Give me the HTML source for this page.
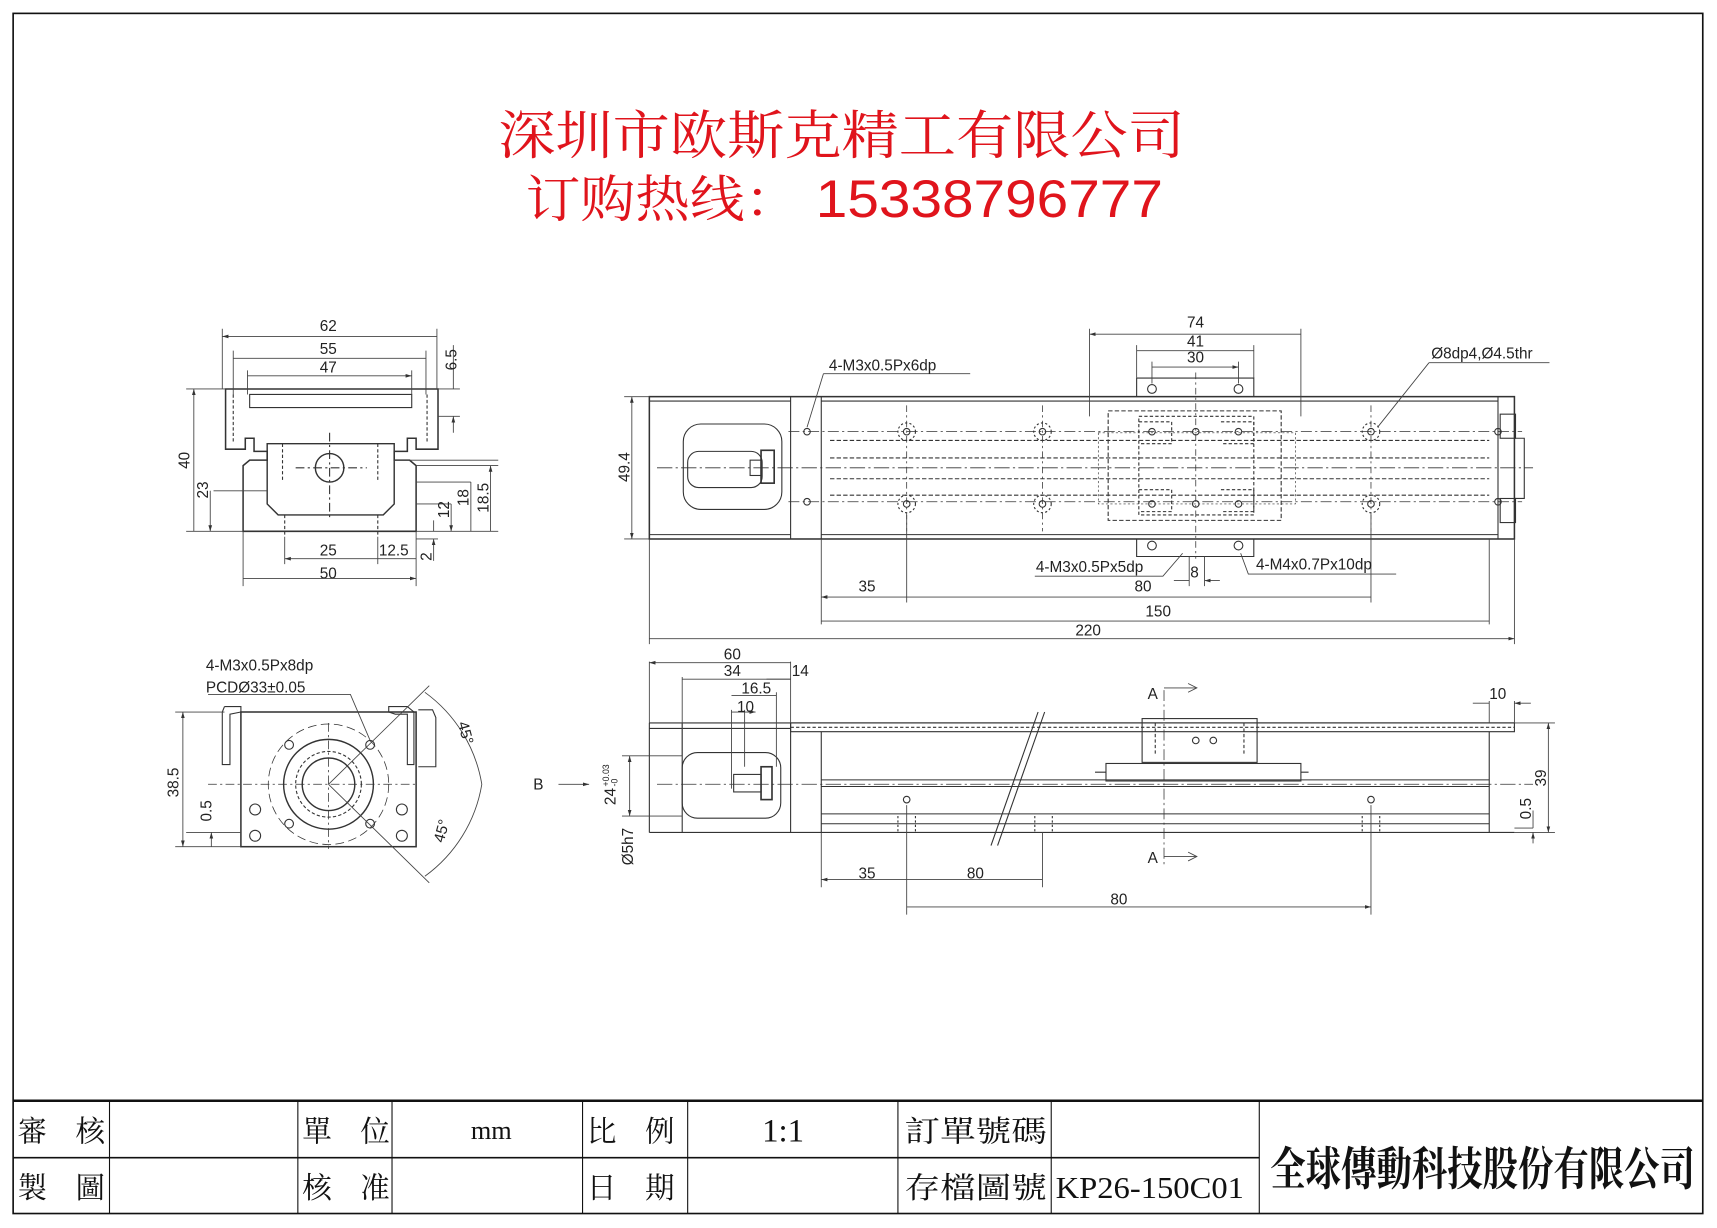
<!DOCTYPE html>
<html><head><meta charset="utf-8"><style>
html,body{margin:0;padding:0;background:#fff;}
svg{display:block;}
text{font-family:"Liberation Sans",sans-serif;fill:#222;}
.cj{font-family:"Liberation Serif","Noto Serif CJK SC","Noto Sans CJK TC",serif;fill:#111;}
</style></head><body>
<svg width="1717" height="1228" viewBox="0 0 1568 1121" xmlns="http://www.w3.org/2000/svg">
<defs>
<marker id="a" viewBox="0 0 10 10" refX="10" refY="5" markerWidth="7" markerHeight="7" orient="auto-start-reverse"><path d="M0,2 L10,5 L0,8z" fill="#333"/></marker>
</defs>
<rect x="0" y="0" width="1568" height="1121" fill="#fff"/>
<rect x="12" y="12" width="1543" height="1096" fill="none" stroke="#111" stroke-width="1.5"/>
<text x="455" y="140" font-size="48" textLength="627" lengthAdjust="spacingAndGlyphs" style="fill:#e0141c;font-family:'Liberation Serif','Noto Serif CJK SC',serif">深圳市欧斯克精工有限公司</text>
<text x="480" y="198" font-size="46" textLength="250" lengthAdjust="spacingAndGlyphs" style="fill:#e0141c;font-family:'Liberation Serif','Noto Serif CJK SC',serif">订购热线：</text>
<text x="745" y="198" font-size="48" textLength="317" lengthAdjust="spacingAndGlyphs" style="fill:#e0141c;font-family:'Liberation Sans',sans-serif">15338796777</text>

<g fill="none" stroke="#333" stroke-width="1">
<path d="M206,355 H400 V410 H380 V400 H372 V412 H360 V420 H374 L380,425 V485 H222 V425 L228,420 H244 V412 H232 V400 H224 V410 H206 Z" stroke-width="1.4"/>
<path d="M228,360 H376 V372 H228 Z"/>
<path d="M244,405 H360 V460 L350,470 H254 L244,460 Z" stroke-width="1.3"/>
<circle cx="301" cy="427" r="13" stroke-width="1.3"/>
<path d="M213,360 V405 M390,360 V405" stroke-dasharray="3,2"/>
<path d="M258,405 V440 M345,405 V440" stroke-dasharray="3,2"/>
<path d="M301,395 V475 M270,427 H335" stroke-dasharray="8,3,2,3"/>
<path d="M260,470 V490 M345,470 V490" stroke-dasharray="3,2"/>
</g>
<g stroke="#444" stroke-width="0.8" fill="none">
<path d="M203,300 V355 M399,300 V355 M213,320 V360 M389,320 V360 M226,338 V360 M376,338 V360"/>
<path d="M203,307 H399 M213,327 H389 M226,343 H376" marker-start="url(#a)" marker-end="url(#a)"/>
<path d="M400,355 H420 M400,380 H420"/>
<path d="M414,315 V355 M414,395 V380" marker-end="url(#a)"/>
<path d="M170,355 H206 M195,448 H244 M170,485 H222"/>
<path d="M177,355 V485 M192,448 V485" marker-start="url(#a)" marker-end="url(#a)"/>
<path d="M360,420 H455 M380,425 H455 M380,440 H430 M380,460 H412 M380,485 H455 M380,492 H400"/>
<path d="M448,425 V485 M430,440 V485 M412,460 V485" marker-start="url(#a)" marker-end="url(#a)"/>
<path d="M396,475 V485 M396,512 V492" marker-end="url(#a)"/>
<path d="M222,485 V535 M380,485 V535 M260,490 V515 M345,490 V515"/>
<path d="M260,510 H380 M222,528 H380" marker-start="url(#a)" marker-end="url(#a)"/>
</g>
<g font-size="14">
<text x="292" y="302">62</text><text x="292" y="323">55</text><text x="292" y="340">47</text>
<text transform="translate(417,338) rotate(-90)">6.5</text>
<text transform="translate(173,428) rotate(-90)">40</text>
<text transform="translate(190,455) rotate(-90)">23</text>
<text transform="translate(410,473) rotate(-90)">12</text>
<text transform="translate(428,462) rotate(-90)">18</text>
<text transform="translate(446,468) rotate(-90)">18.5</text>
<text transform="translate(394,512) rotate(-90)">2</text>
<text x="292" y="507">25</text><text x="346" y="507">12.5</text><text x="292" y="528">50</text>
</g>

<g fill="none" stroke="#333" stroke-width="1">
<rect x="593" y="362" width="790" height="130" stroke-width="1.4"/>
<path d="M593,366 H722 M593,488 H722 M722,362 V492 M750,362 V492"/>
<path d="M750,366 H1368 M750,488 H1368 M1368,362 V492"/>
<rect x="624" y="387" width="90" height="78" rx="16"/>
<rect x="628" y="412" width="68" height="33" rx="10"/>
<rect x="695" y="411" width="12" height="30" stroke-width="1.5"/>
<rect x="685" y="420" width="10" height="14"/>
<rect x="1370" y="378" width="14" height="22"/><rect x="1370" y="455" width="14" height="22"/>
<path d="M1383,400 H1392 V455 H1383"/>
<path d="M1038,345 H1145 V362 M1038,345 V362 M1038,492 V508 H1145 V492"/>
<path d="M758,402 H1360 M758,418 H1360 M758,437 H1360 M758,452 H1360" stroke-dasharray="4,2"/>
<rect x="1012" y="375" width="158" height="100" stroke-dasharray="4,2"/>
<path d="M1040,380 H1145 V470 H1040 Z" stroke-dasharray="3,2"/>
<path d="M1040,385 H1070 V405 H1040 M1115,385 H1145 V405 H1115 M1040,447 H1070 V467 H1040 M1115,447 H1145 V467 H1115" stroke-dasharray="3,2"/>
<path d="M600,427 H1400" stroke-dasharray="14,3,2,3" stroke-width="0.8"/>
<path d="M720,394 H1390 M720,458 H1390" stroke-dasharray="10,3,2,3" stroke-width="0.7"/>
<path d="M828,370 V485 M952,370 V485 M1092,340 V510 M1252,370 V485" stroke-dasharray="6,3,2,3" stroke-width="0.7"/>
<path d="M1003,395 H1183 V460 H1003 Z" stroke-dasharray="2,2" stroke-width="0.6"/>
</g>
<g fill="none" stroke="#333">
<circle cx="737" cy="394" r="3"/><circle cx="737" cy="458" r="3"/>
<circle cx="1368" cy="394" r="3"/><circle cx="1368" cy="458" r="3"/>
<circle cx="828" cy="394" r="8" stroke-dasharray="2,2"/><circle cx="828" cy="394" r="3"/>
<circle cx="828" cy="460" r="8" stroke-dasharray="2,2"/><circle cx="828" cy="460" r="3"/>
<circle cx="952" cy="394" r="8" stroke-dasharray="2,2"/><circle cx="952" cy="394" r="3"/>
<circle cx="952" cy="460" r="8" stroke-dasharray="2,2"/><circle cx="952" cy="460" r="3"/>
<circle cx="1252" cy="394" r="8" stroke-dasharray="2,2"/><circle cx="1252" cy="394" r="3"/>
<circle cx="1252" cy="460" r="8" stroke-dasharray="2,2"/><circle cx="1252" cy="460" r="3"/>
<circle cx="1052" cy="355" r="4"/><circle cx="1131" cy="355" r="4"/>
<circle cx="1052" cy="498" r="4"/><circle cx="1131" cy="498" r="4"/>
<circle cx="1052" cy="394" r="3"/><circle cx="1092" cy="394" r="3"/><circle cx="1131" cy="394" r="3"/>
<circle cx="1052" cy="460" r="3"/><circle cx="1092" cy="460" r="3"/><circle cx="1131" cy="460" r="3"/>
</g>
<g stroke="#444" stroke-width="0.8" fill="none">
<path d="M995,300 V380 M1188,300 V380 M1038,315 V345 M1145,315 V345 M1052,330 V350 M1131,330 V350"/>
<path d="M995,305 H1188 M1038,320 H1145 M1052,335 H1131" marker-start="url(#a)" marker-end="url(#a)"/>
<path d="M593,362 H570 M593,492 H570"/>
<path d="M577,362 V492" marker-start="url(#a)" marker-end="url(#a)"/>
<path d="M750,492 V570 M828,470 V550 M1252,470 V550 M593,492 V588 M1383,492 V588 M1360,492 V570 M1086,508 V535 M1100,508 V535"/>
<path d="M750,545 H828 M828,545 H1252 M750,567 H1360 M593,583 H1383" marker-start="url(#a)" marker-end="url(#a)"/>
<path d="M1072,530 H1086 M1114,530 H1100" marker-end="url(#a)"/>
<path d="M752,341 H886 M752,341 L737,390 M1305,331 H1415 M1305,331 L1258,390"/>
<path d="M945,526 H1062 L1080,505 M1133,505 L1140,524 H1275"/>
</g>
<g font-size="14">
<text x="1084" y="299">74</text><text x="1084" y="316">41</text><text x="1084" y="331">30</text>
<text x="757" y="338">4-M3x0.5Px6dp</text>
<text x="1307" y="327">Ø8dp4,Ø4.5thr</text>
<text transform="translate(575,440) rotate(-90)">49.4</text>
<text x="946" y="522">4-M3x0.5Px5dp</text>
<text x="1147" y="520">4-M4x0.7Px10dp</text>
<text x="1087" y="527">8</text>
<text x="784" y="540">35</text><text x="1036" y="540">80</text><text x="1046" y="563">150</text><text x="982" y="580">220</text>
</g>

<g fill="none" stroke="#333" stroke-width="1">
<path d="M205,645 H220 V650 H355 V645 H372 L378,650 V698 H372 V652 H361 L355,650 M205,645 L203,650 V698 H210 V652 L220,650"/>
<rect x="220" y="650" width="160" height="123" stroke-width="1.4"/>
<path d="M382,648 H395 L398,655 V700 H382"/>
<circle cx="300" cy="716" r="41" stroke-width="1.3"/>
<circle cx="300" cy="716" r="24" stroke-width="1.3"/>
<circle cx="300" cy="716" r="30" stroke-dasharray="3,2"/>
<circle cx="300" cy="716" r="55" stroke-dasharray="8,4" stroke-width="0.7"/>
<circle cx="264" cy="680" r="4"/><circle cx="338" cy="680" r="4"/><circle cx="264" cy="752" r="4"/><circle cx="338" cy="752" r="4"/>
<circle cx="233" cy="739" r="5"/><circle cx="367" cy="739" r="5"/><circle cx="233" cy="763" r="5"/><circle cx="367" cy="763" r="5"/>
<path d="M190,716 H380 M300,660 V775" stroke-dasharray="8,3,2,3" stroke-width="0.7"/>
</g>
<g stroke="#444" stroke-width="0.8" fill="none">
<path d="M160,650 H205 M160,773 H220 M170,760 H220"/>
<path d="M167,650 V773" marker-start="url(#a)" marker-end="url(#a)"/>
<path d="M193,760 V773" marker-start="url(#a)"/>
<path d="M300,716 L392,626 M300,716 L392,806"/>
<path d="M388,632 A130,130 0 0 1 440,716 A130,130 0 0 1 388,800"/>
<path d="M190,634 H320 L338,676"/>
</g>
<g font-size="14">
<text x="188" y="612">4-M3x0.5Px8dp</text>
<text x="188" y="632">PCDØ33±0.05</text>
<text transform="translate(163,728) rotate(-90)">38.5</text>
<text transform="translate(193,750) rotate(-90)">0.5</text>
<text transform="translate(418,660) rotate(75)">45°</text>
<text transform="translate(405,770) rotate(-75)">45°</text>
</g>

<g fill="none" stroke="#333" stroke-width="1">
<path d="M593,660 H1383 M593,665 H722 M593,760 H1383 M593,660 V760 M623,660 V760 M722,660 V760"/>
<path d="M722,660 H1383 V668 H722 Z M750,668 V760 M1360,668 V760"/>
<path d="M750,712 H1360 M750,718 H1360 M750,743 H1360 M750,752 H1360" stroke-width="0.9"/>
<path d="M722,664 H1383" stroke-dasharray="3,2"/>
<rect x="623" y="687" width="90" height="60" rx="14"/>
<rect x="695" y="700" width="10" height="30" stroke-width="1.5"/>
<rect x="670" y="707" width="25" height="16"/>
<rect x="1043" y="656" width="105" height="40"/>
<path d="M1055,660 V690 M1136,660 V690" stroke-dasharray="3,2"/>
<rect x="1010" y="697" width="178" height="16"/>
<path d="M1000,705 H1010 M1188,705 H1195"/>
<circle cx="1092" cy="676" r="3"/><circle cx="1108" cy="676" r="3"/>
<circle cx="828" cy="730" r="3"/><circle cx="1252" cy="730" r="3"/>
<path d="M820,745 V760 M836,745 V760 M945,745 V760 M961,745 V760 M1244,745 V760 M1260,745 V760" stroke-dasharray="2,2"/>
<path d="M600,716 H1400" stroke-dasharray="14,3,2,3" stroke-width="0.7"/>
<path d="M1063,630 V790" stroke-dasharray="10,3,2,3" stroke-width="0.7"/>
</g>
<g stroke="#333" stroke-width="1" fill="none">
<path d="M948,650 L905,772 M954,650 L911,772"/>
</g>
<g stroke="#444" stroke-width="0.8" fill="none">
<path d="M593,604 V660 M722,604 V660 M623,618 V690 M709,632 V700 M668,648 V720 M680,648 V700"/>
<path d="M593,605 H722 M623,620 H722 M668,635 H709 M668,650 H690" marker-start="url(#a)" marker-end="url(#a)"/>
<path d="M700,620 H722"/>
<path d="M1383,640 V660 M1360,640 V660 M1345,642 H1360 M1398,642 H1383" marker-end="url(#a)"/>
<path d="M1383,660 H1420 M1383,760 H1420 M1383,756 H1400"/>
<path d="M1414,660 V760" marker-start="url(#a)" marker-end="url(#a)"/>
<path d="M1400,740 V756 M1400,770 V760" marker-end="url(#a)"/>
<path d="M568,690 H623 M568,745 H623"/>
<path d="M575,690 V745" marker-start="url(#a)" marker-end="url(#a)"/>
<path d="M510,716 H538" marker-end="url(#a)"/>
<path d="M750,760 V810 M828,735 V835 M952,760 V810 M1252,735 V835"/>
<path d="M750,803 H828 M828,803 H952 M828,828 H1252" marker-start="url(#a)" marker-end="url(#a)"/>
<path d="M1063,628 H1075 M1063,782 H1075 M1068,628 H1092 M1068,782 H1092"/>
<path d="M1085,624 L1093,628 L1085,632 M1085,778 L1093,782 L1085,786"/>
</g>
<g font-size="14">
<text x="661" y="602">60</text><text x="661" y="617">34</text><text x="723" y="617">14</text>
<text x="677" y="633">16.5</text><text x="673" y="650">10</text>
<text x="1360" y="638">10</text>
<text x="1048" y="638">A</text><text x="1048" y="788">A</text>
<text x="487" y="721">B</text>
<text transform="translate(562,735) rotate(-90)">24</text>
<text transform="translate(556,718) rotate(-90)" font-size="8">+0.03</text>
<text transform="translate(564,718) rotate(-90)" font-size="8">-0</text>
<text transform="translate(578,790) rotate(-90)">Ø5h7</text>
<text transform="translate(1412,718) rotate(-90)">39</text>
<text transform="translate(1398,748) rotate(-90)">0.5</text>
<text x="784" y="802">35</text><text x="883" y="802">80</text><text x="1014" y="826">80</text>
</g>

<g stroke="#111" fill="none">
<path d="M12,1005 H1555" stroke-width="2.2"/>
<path d="M12,1057 H1150" stroke-width="1.5"/>
<path d="M100,1005 V1108 M272,1005 V1108 M358,1005 V1108 M532,1005 V1108 M628,1005 V1108 M820,1005 V1108 M960,1005 V1108 M1150,1005 V1108" stroke-width="1"/>
</g>
<g class="cj" font-size="27">
<text x="16" y="1042" class="cj" textLength="80" lengthAdjust="spacing">審 核</text>
<text x="16" y="1094" class="cj" textLength="80" lengthAdjust="spacing">製 圖</text>
<text x="276" y="1042" class="cj" textLength="80" lengthAdjust="spacing">單 位</text>
<text x="276" y="1094" class="cj" textLength="80" lengthAdjust="spacing">核 准</text>
<text x="430" y="1040" class="cj" font-size="24">mm</text>
<text x="536" y="1042" class="cj" textLength="80" lengthAdjust="spacing">比 例</text>
<text x="536" y="1094" class="cj" textLength="80" lengthAdjust="spacing">日 期</text>
<text x="696" y="1042" class="cj" font-size="30">1:1</text>
<text x="826" y="1042" class="cj" textLength="130" lengthAdjust="spacingAndGlyphs">訂單號碼</text>
<text x="826" y="1094" class="cj" textLength="130" lengthAdjust="spacingAndGlyphs">存檔圖號</text>
<text x="964" y="1094" class="cj" font-size="28" textLength="172" lengthAdjust="spacingAndGlyphs">KP26-150C01</text>
<text x="1160" y="1082" class="cj" font-size="42" textLength="388" lengthAdjust="spacingAndGlyphs" style="font-weight:bold">全球傳動科技股份有限公司</text>
</g>
</svg>
</body></html>
